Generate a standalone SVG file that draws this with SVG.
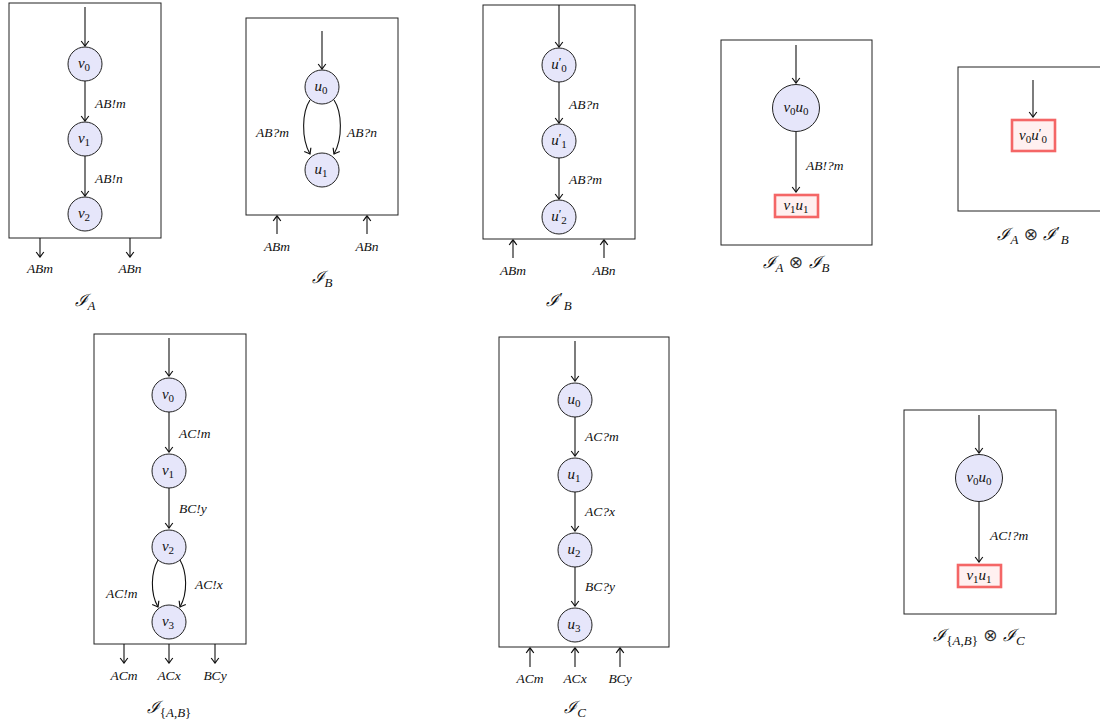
<svg xmlns="http://www.w3.org/2000/svg" width="1100" height="727" viewBox="0 0 1100 727">
<style>
.box{fill:none;stroke:#222;stroke-width:1}
.st{fill:#e6e6fa;stroke:#222;stroke-width:1}
.fin{fill:#fff0f0;stroke:#f46666;stroke-width:2.6}
.e{fill:none;stroke:#111;stroke-width:1.1;marker-end:url(#ar)}
text{font-family:"Liberation Serif","DejaVu Serif",serif;font-style:italic;fill:#111}
.n{font-size:15px;text-anchor:middle}
.l{font-size:13.5px}
.c{font-size:13.5px;text-anchor:middle}
.t{font-size:17px;text-anchor:middle}
.up{font-style:normal}
.ot{font-family:"DejaVu Sans",sans-serif;font-style:normal;font-weight:normal;font-size:17px;fill:#333}
.pr{font-style:normal;font-size:12px}
</style>
<defs>
<marker id="ar" markerWidth="10" markerHeight="10" viewBox="-6 -5 8 10" refX="0" refY="0" orient="auto" markerUnits="userSpaceOnUse">
<path d="M-5,-3.8 Q-1.2,-1 0,0 Q-1.2,1 -5,3.8" fill="none" stroke="#111" stroke-width="1.2"/>
</marker>
</defs>

<!-- Panel I_A -->
<g id="IA">
<rect class="box" x="9" y="3" width="152" height="235"/>
<text class="t" x="85" y="306">ℐ<tspan font-size="13" dy="4">A</tspan></text>
<text class="c" x="40" y="273">ABm</text>
<text class="c" x="130" y="273">ABn</text>
</g>
<g id="A_v0"><circle class="st" cx="85" cy="64" r="17"/><text class="n" x="84" y="68">v<tspan class="up" font-size="11" dy="3">0</tspan></text></g>
<g id="A_v1"><circle class="st" cx="85" cy="139" r="17"/><text class="n" x="84" y="143">v<tspan class="up" font-size="11" dy="3">1</tspan></text></g>
<g id="A_v2"><circle class="st" cx="85" cy="214" r="17"/><text class="n" x="84" y="218">v<tspan class="up" font-size="11" dy="3">2</tspan></text></g>

<!-- Panel I_B -->
<g id="IB">
<rect class="box" x="246" y="18" width="152" height="197"/>
<text class="t" x="322" y="283">ℐ<tspan font-size="13" dy="4">B</tspan></text>
<text class="c" x="277" y="251">ABm</text>
<text class="c" x="367" y="251">ABn</text>
</g>
<g id="B_u0"><circle class="st" cx="322" cy="87" r="17"/><text class="n" x="321" y="91">u<tspan class="up" font-size="11" dy="3">0</tspan></text></g>
<g id="B_u1"><circle class="st" cx="322" cy="170" r="17"/><text class="n" x="321" y="174">u<tspan class="up" font-size="11" dy="3">1</tspan></text></g>

<!-- Panel I'_B -->
<g id="IBp">
<rect class="box" x="483" y="5" width="152" height="234"/>
<text class="t" x="559" y="306">ℐ<tspan class="up" font-size="15" dy="-3">′</tspan><tspan font-size="13" dx="1" dy="7">B</tspan></text>
<text class="c" x="513" y="275">ABm</text>
<text class="c" x="604" y="275">ABn</text>
</g>
<g id="Bp_u0"><circle class="st" cx="559" cy="65" r="17"/><text class="n" x="559" y="69">u<tspan class="pr" dy="-3">′</tspan><tspan class="up" font-size="11" dy="6">0</tspan></text></g>
<g id="Bp_u1"><circle class="st" cx="559" cy="141" r="17"/><text class="n" x="559" y="145">u<tspan class="pr" dy="-3">′</tspan><tspan class="up" font-size="11" dy="6">1</tspan></text></g>
<g id="Bp_u2"><circle class="st" cx="559" cy="217" r="17"/><text class="n" x="559" y="221">u<tspan class="pr" dy="-3">′</tspan><tspan class="up" font-size="11" dy="6">2</tspan></text></g>

<!-- Panel I_A x I_B -->
<g id="IAxIB">
<rect class="box" x="721" y="40" width="151" height="205"/>
<text class="t" x="796" y="268">ℐ<tspan font-size="13" dy="4">A</tspan><tspan class="ot" dy="-4"> ⊗ </tspan>ℐ<tspan font-size="13" dy="4">B</tspan></text>
</g>
<g id="AB_v0u0"><circle class="st" cx="796" cy="108" r="23.5"/><text class="n" x="796" y="112">v<tspan class="up" font-size="11" dy="3">0</tspan><tspan dy="-3">u</tspan><tspan class="up" font-size="11" dy="3">0</tspan></text></g>
<g id="AB_v1u1"><rect class="fin" x="775" y="195" width="43" height="22"/><text class="n" x="796" y="210">v<tspan class="up" font-size="11" dy="3">1</tspan><tspan dy="-3">u</tspan><tspan class="up" font-size="11" dy="3">1</tspan></text></g>

<!-- Panel I_A x I'_B -->
<g id="IAxIBp">
<rect class="box" x="958" y="67" width="150" height="144"/>
<text class="t" x="1033" y="240">ℐ<tspan font-size="13" dy="4">A</tspan><tspan class="ot" dy="-4"> ⊗ </tspan>ℐ<tspan class="up" font-size="15" dy="-3">′</tspan><tspan font-size="13" dx="1" dy="7">B</tspan></text>
</g>
<g id="ABp_v0u0"><rect class="fin" x="1012" y="120" width="43" height="31"/><text class="n" x="1033" y="140">v<tspan class="up" font-size="11" dy="3">0</tspan><tspan dy="-3">u</tspan><tspan class="pr" dy="-3">′</tspan><tspan class="up" font-size="11" dy="6">0</tspan></text></g>

<!-- Panel I_{A,B} -->
<g id="IAB">
<rect class="box" x="94" y="334" width="152" height="310"/>
<text class="t" x="169" y="713">ℐ<tspan font-size="13" dy="4"><tspan class="up">{</tspan>A<tspan class="up">,</tspan>B<tspan class="up">}</tspan></tspan></text>
<text class="c" x="124" y="680">ACm</text>
<text class="c" x="169" y="680">ACx</text>
<text class="c" x="215" y="680">BCy</text>
</g>
<g id="AB_v0"><circle class="st" cx="169" cy="395" r="17"/><text class="n" x="168" y="399">v<tspan class="up" font-size="11" dy="3">0</tspan></text></g>
<g id="AB_v1"><circle class="st" cx="169" cy="471" r="17"/><text class="n" x="168" y="475">v<tspan class="up" font-size="11" dy="3">1</tspan></text></g>
<g id="AB_v2"><circle class="st" cx="169" cy="547" r="17"/><text class="n" x="168" y="551">v<tspan class="up" font-size="11" dy="3">2</tspan></text></g>
<g id="AB_v3"><circle class="st" cx="169" cy="622" r="17"/><text class="n" x="168" y="626">v<tspan class="up" font-size="11" dy="3">3</tspan></text></g>

<!-- Panel I_C -->
<g id="IC">
<rect class="box" x="499" y="337" width="170" height="310"/>
<text class="t" x="575" y="713">ℐ<tspan font-size="13" dy="4">C</tspan></text>
<text class="c" x="530" y="683">ACm</text>
<text class="c" x="575" y="683">ACx</text>
<text class="c" x="620" y="683">BCy</text>
</g>
<g id="C_u0"><circle class="st" cx="575" cy="400" r="17"/><text class="n" x="574" y="404">u<tspan class="up" font-size="11" dy="3">0</tspan></text></g>
<g id="C_u1"><circle class="st" cx="575" cy="475" r="17"/><text class="n" x="574" y="479">u<tspan class="up" font-size="11" dy="3">1</tspan></text></g>
<g id="C_u2"><circle class="st" cx="575" cy="550" r="17"/><text class="n" x="574" y="554">u<tspan class="up" font-size="11" dy="3">2</tspan></text></g>
<g id="C_u3"><circle class="st" cx="575" cy="625" r="17"/><text class="n" x="574" y="629">u<tspan class="up" font-size="11" dy="3">3</tspan></text></g>

<!-- Panel I_{A,B} x I_C -->
<g id="IABxIC">
<rect class="box" x="904" y="410" width="152" height="204"/>
<text class="t" x="979" y="641">ℐ<tspan font-size="13" dy="4"><tspan class="up">{</tspan>A<tspan class="up">,</tspan>B<tspan class="up">}</tspan></tspan><tspan class="ot" dy="-4"> ⊗ </tspan>ℐ<tspan font-size="13" dy="4">C</tspan></text>
</g>
<g id="ABC_v0u0"><circle class="st" cx="979" cy="478" r="23.5"/><text class="n" x="979" y="482">v<tspan class="up" font-size="11" dy="3">0</tspan><tspan dy="-3">u</tspan><tspan class="up" font-size="11" dy="3">0</tspan></text></g>
<g id="ABC_v1u1"><rect class="fin" x="958" y="565" width="43" height="22"/><text class="n" x="979" y="580">v<tspan class="up" font-size="11" dy="3">1</tspan><tspan dy="-3">u</tspan><tspan class="up" font-size="11" dy="3">1</tspan></text></g>

<!-- Connectors -->
<g id="connectors">
<!-- I_A -->
<line class="e" x1="85" y1="7" x2="85" y2="46"/>
<line class="e" x1="85" y1="81" x2="85" y2="121"/>
<line class="e" x1="85" y1="156" x2="85" y2="196"/>
<line class="e" x1="40" y1="238" x2="40" y2="257"/>
<line class="e" x1="130" y1="238" x2="130" y2="257"/>
<text class="l" x="95" y="108">AB!m</text>
<text class="l" x="95" y="183">AB!n</text>
<!-- I_B -->
<line class="e" x1="322" y1="31" x2="322" y2="69"/>
<path class="e" d="M310,100 C302,112 301,138 310,154"/>
<path class="e" d="M334,100 C342,112 343,138 334,154"/>
<line class="e" x1="277" y1="234" x2="277" y2="216"/>
<line class="e" x1="367" y1="234" x2="367" y2="216"/>
<text class="l" x="256" y="137">AB?m</text>
<text class="l" x="347" y="137">AB?n</text>
<!-- I'_B -->
<line class="e" x1="559" y1="5" x2="559" y2="47"/>
<line class="e" x1="559" y1="82" x2="559" y2="123"/>
<line class="e" x1="559" y1="158" x2="559" y2="199"/>
<line class="e" x1="513" y1="258" x2="513" y2="240"/>
<line class="e" x1="604" y1="258" x2="604" y2="240"/>
<text class="l" x="569" y="109">AB?n</text>
<text class="l" x="569" y="184">AB?m</text>
<!-- I_A x I_B -->
<line class="e" x1="796" y1="45" x2="796" y2="83"/>
<line class="e" x1="796" y1="132" x2="796" y2="192"/>
<text class="l" x="806" y="170">AB!?m</text>
<!-- I_A x I'_B -->
<line class="e" x1="1033" y1="80" x2="1033" y2="117"/>
<!-- I_{A,B} -->
<line class="e" x1="169" y1="338" x2="169" y2="376"/>
<line class="e" x1="169" y1="412" x2="169" y2="452"/>
<line class="e" x1="169" y1="488" x2="169" y2="528"/>
<path class="e" d="M158,560 C151,572 150,593 158,607"/>
<path class="e" d="M180,560 C187,572 188,593 180,607"/>
<line class="e" x1="124" y1="644" x2="124" y2="663"/>
<line class="e" x1="169" y1="644" x2="169" y2="663"/>
<line class="e" x1="215" y1="644" x2="215" y2="663"/>
<text class="l" x="179" y="438">AC!m</text>
<text class="l" x="179" y="513">BC!y</text>
<text class="l" x="106" y="598">AC!m</text>
<text class="l" x="195" y="589">AC!x</text>
<!-- I_C -->
<line class="e" x1="575" y1="341" x2="575" y2="381"/>
<line class="e" x1="575" y1="417" x2="575" y2="456"/>
<line class="e" x1="575" y1="492" x2="575" y2="531"/>
<line class="e" x1="575" y1="567" x2="575" y2="606"/>
<line class="e" x1="530" y1="667" x2="530" y2="648"/>
<line class="e" x1="575" y1="667" x2="575" y2="648"/>
<line class="e" x1="620" y1="667" x2="620" y2="648"/>
<text class="l" x="585" y="441">AC?m</text>
<text class="l" x="585" y="516">AC?x</text>
<text class="l" x="585" y="591">BC?y</text>
<!-- I_{A,B} x I_C -->
<line class="e" x1="979" y1="415" x2="979" y2="453"/>
<line class="e" x1="979" y1="502" x2="979" y2="562"/>
<text class="l" x="990" y="540">AC!?m</text>
</g>
</svg>
